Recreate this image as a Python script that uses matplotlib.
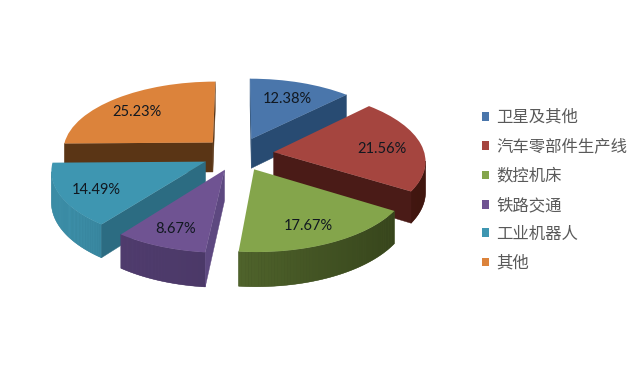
import matplotlib
matplotlib.use("Agg")
import matplotlib.pyplot as plt
import numpy as np
from matplotlib.patches import Polygon
from matplotlib.transforms import Transform

categories = ["卫星及其他", "汽车零部件生产线", "数控机床", "铁路交通", "工业机器人", "其他"]
shares = [12.38, 21.56, 17.67, 8.67, 14.49, 25.23]

top_colors = ["#4a76ab", "#a5453f", "#84a54b", "#6f5392", "#3e96b1", "#dc833b"]
cut_colors = ["#284b72", "#4a1b17", "#3e4f20", "#5d4880", "#2c6c82", "#5a3515"]
arc_left = ["#2f5585", "#4a1b17", "#4f632b", "#503c6e", "#3f93ad", "#6a3f18"]
arc_right = ["#264468", "#40160f", "#37451c", "#4a3866", "#2b6d83", "#5a3515"]
draw_order = [5, 0, 1, 4, 3, 2]

CX, CY = 238, 154
AX_X, AX_Y = 151, 70
PERSP = 0.11
DEPTH = 30


def project(xy, depth=0.0):
    xy = np.atleast_2d(xy)
    s = 1.0 / (1.0 + PERSP * xy[:, 1])
    return np.column_stack([CX + AX_X * xy[:, 0] * s, CY - AX_Y * xy[:, 1] * s + depth * s])


class PieTilt(Transform):
    input_dims = 2
    output_dims = 2

    def transform_non_affine(self, values):
        return project(values)


def shoelace(p):
    x, y = p[:, 0], p[:, 1]
    return 0.5 * np.sum(x * np.roll(y, -1) - np.roll(x, -1) * y)


def mix(c1, c2, t):
    a = np.array(matplotlib.colors.to_rgb(c1))
    b = np.array(matplotlib.colors.to_rgb(c2))
    return tuple(a + (b - a) * t)


plt.rcParams["font.family"] = ["Lato", "Noto Sans CJK SC", "DejaVu Sans"]
fig = plt.figure(figsize=(6.39, 3.80), dpi=100, facecolor="white")
ax = fig.add_axes([0, 0, 1, 1])

wedges, _, pct = ax.pie(
    shares, colors=top_colors, explode=[0.238] * len(shares), startangle=90, counterclock=False,
    autopct="%.2f%%", pctdistance=0.75, radius=1.0, normalize=True,
    textprops={"fontsize": 10.5, "color": "#111820"},
)
ax.set_aspect("auto")
ax.set_xlim(0, 639)
ax.set_ylim(380, 0)
ax.axis("off")

tilt = PieTilt()
for rank, i in enumerate(draw_order):
    w = wedges[i]
    w.set_transform(tilt + ax.transData)
    w.set_zorder(10 + rank * 2 + 1)
    w.set_edgecolor("none")
    # outline of the slice in plane coordinates, walked once round
    th = np.radians(np.linspace(w.theta1, w.theta2, 60))
    cen = np.array(w.center)
    arc = cen + w.r * np.column_stack([np.cos(th), np.sin(th)])
    rim = np.vstack([cen, arc])
    n = len(rim)
    up = project(rim)
    down = project(rim, DEPTH)
    xmin, xmax = up[:, 0].min(), up[:, 0].max()
    quads = []
    for k in range(n):
        j = (k + 1) % n
        quad = np.array([up[k], up[j], down[j], down[k]])
        if shoelace(quad) > 0:
            quads.append((k, j, quad))
    # solid layer under the gradient strips so their seams do not show
    seen = [k for k, j, q in quads if k != 0 and j != 0]
    if seen:
        lo, hi = min(seen), max(seen) + 1
        under = np.vstack([up[lo:hi + 1], down[lo:hi + 1][::-1]])
        col = mix(arc_left[i], arc_right[i], 0.5)
        ax.add_patch(Polygon(under, closed=True, facecolor=col, edgecolor=col, linewidth=0.3,
                             zorder=10 + rank * 2))
    for k, j, quad in quads:
        if k == 0 or j == 0:
            col = cut_colors[i]
            lw = 0.3
        else:
            col = mix(arc_left[i], arc_right[i], (quad[:, 0].mean() - xmin) / max(xmax - xmin, 1))
            lw = 0
        ax.add_patch(Polygon(quad, closed=True, facecolor=col, edgecolor=col, linewidth=lw,
                             zorder=10 + rank * 2))

for t in pct:
    px, py = project(t.get_position(), 3)[0]
    t.set_position((px - 2, py))
    t.set_zorder(50)

ax.legend(
    wedges, categories, loc="upper left", bbox_to_anchor=(0.754, 0.712), frameon=False,
    fontsize=11.8, labelcolor="#595959", handlelength=0.45, handleheight=0.45,
    handletextpad=0.45, labelspacing=0.83, borderpad=0, borderaxespad=0,
)

fig.savefig("out.png", dpi=100, facecolor="white")
